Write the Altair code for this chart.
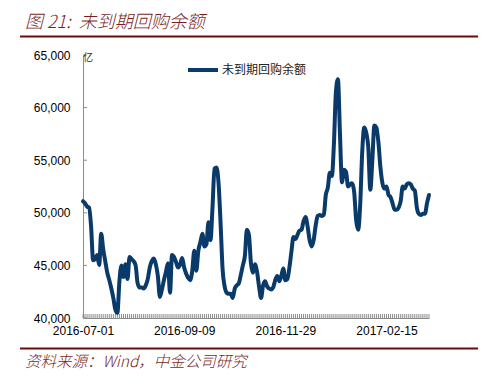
import altair as alt
import pandas as pd

# ---- data ----
values = [
    51100, 50900, 50600, 50500, 48700, 45500, 45600, 46000, 45040, 48000,
    46500, 45400, 44300, 43600, 42800, 41900, 40800, 40500, 43500, 45000,
    43900, 45100, 43700, 45800, 45600, 45400, 45000, 43300, 42900, 42900,
    42800, 43100, 43700, 44800, 45400, 45650, 45100, 44000, 42000, 42700,
    43600, 44400, 45200, 42400, 46000, 45800, 45300, 44800, 45100, 45700,
    44800, 44200, 43800, 43600, 44500, 46400, 44500, 46400, 47200, 48000,
    46800, 47000, 49100, 47400, 50500, 54200, 54300, 52800, 49000, 44600,
    43000, 42400, 42300, 42300, 41900, 42800, 43100, 43300, 44100, 45000,
    45900, 48400, 47900, 45200, 44300, 45100, 44400, 43000, 41900, 43100,
    43500, 43000, 42800, 42700, 42900, 43600, 44000, 43500, 44000, 44700,
    43600, 43700, 44800, 46300, 47700, 47500, 47900, 48300, 48400, 49200,
    49600, 48700, 47400, 46800, 47400, 48800, 49700, 49800, 49700, 49800,
    51700, 52400, 53800, 53500, 56500, 61500, 62700, 57500, 52900, 54100,
    53900, 52500, 52700, 52800, 52000, 49300, 48400, 50800, 55800, 58100,
    57600, 56200, 52200, 55000, 58300, 58100, 56700, 54300, 52800, 52300,
    52500, 51700, 51500, 50900, 50300, 50300, 50500, 51100, 52500, 52300,
    52700, 52800, 52700, 52300, 52100, 50500, 49900, 49800, 49900, 49900,
    50900, 51700,
]
tick_index = [0, 50, 100, 150]
tick_labels = ["2016-07-01", "2016-09-09", "2016-11-29", "2017-02-15"]
y_ticks = [40000, 45000, 50000, 55000, 60000, 65000]
series_name = "未到期回购余额"
title_text = "图\u00a021:\u00a0\u00a0未到期回购余额"
source_text = "资料来源：Wind，中金公司研究"
unit_text = "亿"

NAVY = "#0a3a6a"
MAROON = "#6b0b0b"
TITLE_COLOR = "#7a1f1f"
AXIS_GRAY = "#8c8c8c"

W, H = 346, 263
PAD_L, PAD_T = 83, 55

df = pd.DataFrame({"i": list(range(len(values))), "v": values})
tdf = pd.DataFrame({"v": y_ticks})

x_scale = alt.Scale(domain=[0, len(values) - 1], nice=False, zero=False)
y_scale = alt.Scale(domain=[y_ticks[0], y_ticks[-1]], nice=False, zero=False)

parts = [f"datum.value == {i} ? '{l}'" for i, l in zip(tick_index, tick_labels)]
label_expr = " : ".join(parts) + " : ''"

x_axis = alt.Axis(values=tick_index, labelExpr=label_expr, title=None, grid=False,
                  ticks=False, domainColor=AXIS_GRAY, domainWidth=1,
                  labelFontSize=12, labelFont="Liberation Sans", labelColor="#000000",
                  labelPadding=7, labelFlush=False, labelOverlap=False)
y_axis = alt.Axis(values=y_ticks, labelExpr="format(datum.value, ',')", title=None,
                  grid=False, ticks=False, domainColor=AXIS_GRAY, domainWidth=1,
                  labelFontSize=12, labelFont="Liberation Sans", labelColor="#000000",
                  labelPadding=13)

line = alt.Chart(df).mark_line(color=NAVY, strokeWidth=4, interpolate="monotone",
                               strokeJoin="round", strokeCap="round").encode(
    x=alt.X("i:Q", scale=x_scale, axis=x_axis),
    y=alt.Y("v:Q", scale=y_scale, axis=y_axis),
)

x_ticks = alt.Chart(df).mark_rule(color=AXIS_GRAY, strokeWidth=1).encode(
    x=alt.X("i:Q", scale=x_scale, axis=x_axis),
    y=alt.value(H), y2=alt.value(H - 4),
)

y_tick_marks = alt.Chart(tdf).mark_rule(color=AXIS_GRAY, strokeWidth=1).encode(
    y=alt.Y("v:Q", scale=y_scale, axis=y_axis),
    x=alt.value(0), x2=alt.value(4),
)

def text_layer(txt, x, y, **kw):
    return alt.Chart(pd.DataFrame({"t": [txt]})).mark_text(**kw).encode(
        text="t:N", x=alt.value(x), y=alt.value(y))

title = text_layer(title_text, 25 - PAD_L, 23 - PAD_T, align="left", baseline="middle",
                   font="Noto Sans CJK SC", fontSize=18, fontStyle="italic",
                   fontWeight=300, color=TITLE_COLOR)
source = text_layer(source_text, 25 - PAD_L, 362 - PAD_T, align="left", baseline="middle",
                    font="Noto Sans CJK SC", fontSize=15.5, fontStyle="italic",
                    fontWeight=300, color=TITLE_COLOR)
unit = text_layer(unit_text, 88 - PAD_L, 58 - PAD_T, align="center", baseline="middle",
                  font="Noto Sans CJK SC", fontSize=10, color="#333333")
legend_text = text_layer(series_name, 222 - PAD_L, 70 - PAD_T, align="left",
                         baseline="middle", font="Noto Sans CJK SC", fontSize=12,
                         color="#222222")

one = pd.DataFrame({"k": [0]})
top_rule = alt.Chart(one).mark_rule(color=MAROON, strokeWidth=2.2).encode(
    x=alt.value(20 - PAD_L), x2=alt.value(478 - PAD_L), y=alt.value(36.5 - PAD_T))
bottom_rule = alt.Chart(one).mark_rule(color=MAROON, strokeWidth=2.2).encode(
    x=alt.value(20 - PAD_L), x2=alt.value(478 - PAD_L), y=alt.value(348.5 - PAD_T))
legend_line = alt.Chart(one).mark_rule(color=NAVY, strokeWidth=4).encode(
    x=alt.value(188 - PAD_L), x2=alt.value(218 - PAD_L), y=alt.value(70 - PAD_T))

chart = alt.layer(
    x_ticks, y_tick_marks, line, title, source, unit, legend_line, legend_text,
    top_rule, bottom_rule,
).properties(
    width=W, height=H,
    autosize=alt.AutoSizeParams(type="none"),
    padding={"left": PAD_L, "top": PAD_T, "right": 502 - PAD_L - W, "bottom": 377 - PAD_T - H},
    background="white",
).configure_view(stroke=None)

chart.save("out.html", embed_options={"renderer": "svg", "actions": False})
